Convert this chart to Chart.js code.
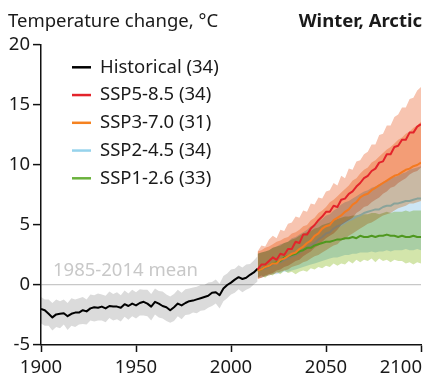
<!DOCTYPE html>
<html>
<head>
<meta charset="utf-8">
<script src="https://cdn.jsdelivr.net/npm/chart.js@4.4.1/dist/chart.umd.min.js"></script>
<style>
  html, body { margin: 0; padding: 0; background: #fff; }
  #wrap { position: relative; width: 426px; height: 376px; }
</style>
</head>
<body>
<div id="wrap"><canvas id="chart"></canvas></div>
<script>
// historical ensemble mean and 5-95% range, every second year
const histYears = [1900, 1902, 1904, 1906, 1908, 1910, 1912, 1914, 1916, 1918,
  1920, 1922, 1924, 1926, 1928, 1930, 1932, 1934, 1936, 1938,
  1940, 1942, 1944, 1946, 1948, 1950, 1952, 1954, 1956, 1958,
  1960, 1962, 1964, 1966, 1968, 1970, 1972, 1974, 1976, 1978,
  1980, 1982, 1984, 1986, 1988, 1990, 1992, 1994, 1996, 1998,
  2000, 2002, 2004, 2006, 2008, 2010, 2012, 2014];
const histMean = [-2.0, -2.1, -2.4, -2.7, -2.45, -2.4, -2.35, -2.6, -2.4, -2.3,
  -2.3, -2.1, -2.2, -1.95, -1.85, -1.9, -1.8, -1.95, -1.75, -1.8,
  -1.8, -1.9, -1.6, -1.75, -1.55, -1.7, -1.5, -1.4, -1.55, -1.8,
  -1.4, -1.55, -1.75, -1.85, -2.1, -1.85, -1.55, -1.7, -1.5, -1.35,
  -1.3, -1.2, -1.1, -1.0, -0.9, -0.65, -0.6, -0.85, -0.3, 0.0,
  0.2, 0.45, 0.65, 0.5, 0.6, 0.85, 1.05, 1.35];
const histHigh = [-1.0, -1.2, -1.2, -1.5, -1.2, -1.35, -1.2, -1.5, -1.1, -1.2,
  -1.1, -1.0, -1.2, -0.8, -0.85, -0.7, -0.8, -0.9, -0.55, -0.75,
  -0.6, -0.85, -0.45, -0.7, -0.4, -0.6, -0.35, -0.4, -0.4, -0.75,
  -0.3, -0.5, -0.55, -0.8, -0.95, -0.75, -0.4, -0.65, -0.35, -0.3,
  -0.2, -0.15, 0.0, 0.0, 0.2, 0.25, 0.45, 0.1, 0.75, 0.95,
  1.3, 1.35, 1.65, 1.45, 1.7, 1.75, 2.05, 2.4];
const histLow = [-3.2, -3.4, -3.4, -3.8, -3.5, -3.6, -3.3, -3.75, -3.4, -3.5,
  -3.3, -3.25, -3.3, -2.95, -3.05, -2.95, -2.95, -3.1, -2.75, -2.95,
  -2.85, -3.05, -2.65, -2.9, -2.6, -2.8, -2.55, -2.55, -2.6, -2.95,
  -2.45, -2.7, -2.8, -3.0, -3.15, -3.0, -2.6, -2.85, -2.5, -2.45,
  -2.3, -2.35, -2.15, -2.1, -1.9, -1.75, -1.55, -1.95, -1.35, -1.1,
  -0.8, -0.65, -0.35, -0.6, -0.4, -0.25, 0.05, 0.3];

// scenario projections, every second year
const futureYears = [2014, 2016, 2018, 2020, 2022, 2024, 2026, 2028, 2030, 2032,
  2034, 2036, 2038, 2040, 2042, 2044, 2046, 2048, 2050, 2052,
  2054, 2056, 2058, 2060, 2062, 2064, 2066, 2068, 2070, 2072,
  2074, 2076, 2078, 2080, 2082, 2084, 2086, 2088, 2090, 2092,
  2094, 2096, 2098, 2100];

const ssp585Mean = [1.3, 1.7, 1.7, 2.0, 2.3, 2.1, 2.6, 2.5, 3.0, 3.0,
  3.6, 3.5, 4.2, 4.2, 4.7, 5.0, 5.4, 5.7, 6.1, 6.1,
  6.6, 6.5, 7.1, 7.2, 7.6, 7.8, 8.2, 8.5, 8.9, 9.1,
  9.5, 9.7, 10.2, 10.3, 10.9, 10.9, 11.5, 11.6, 12.1, 12.1,
  12.7, 12.7, 13.2, 13.4];
const ssp585High = [2.8, 3.3, 3.2, 3.8, 4.1, 3.9, 4.6, 4.5, 5.1, 5.2,
  5.7, 5.6, 6.2, 6.1, 6.8, 6.7, 7.3, 7.2, 7.8, 7.9,
  8.5, 8.3, 9.1, 8.9, 9.7, 9.6, 10.3, 10.4, 10.9, 11.1,
  11.7, 11.7, 12.5, 12.6, 13.3, 13.3, 14.0, 14.2, 14.8, 14.8,
  15.5, 15.6, 16.2, 16.5];
const ssp585Low = [0.5, 0.6, 0.8, 0.9, 1.0, 1.2, 1.3, 1.5, 1.6, 1.8,
  2.0, 2.1, 2.4, 2.6, 2.8, 3.1, 3.3, 3.6, 3.9, 4.1,
  4.3, 4.6, 5.0, 5.2, 5.4, 5.6, 6.0, 6.2, 6.5, 6.6,
  6.9, 7.1, 7.3, 7.6, 7.8, 8.1, 8.2, 8.5, 8.7, 8.9,
  9.2, 9.4, 9.5, 9.8];

const ssp370Mean = [1.2, 1.3, 1.5, 1.6, 1.8, 1.8, 2.1, 2.2, 2.4, 2.6,
  2.7, 3.0, 3.2, 3.5, 3.7, 4.1, 4.3, 4.7, 4.9, 5.0,
  5.4, 5.6, 5.8, 6.1, 6.3, 6.7, 6.9, 7.3, 7.5, 7.6,
  7.9, 8.1, 8.3, 8.5, 8.7, 8.9, 9.1, 9.2, 9.4, 9.6,
  9.7, 9.9, 10.0, 10.2];
const ssp370High = [2.8, 2.9, 3.1, 3.2, 3.4, 3.6, 3.7, 3.9, 4.0, 4.3,
  4.4, 4.6, 4.9, 5.0, 5.4, 5.6, 6.0, 6.2, 6.5, 6.9,
  7.1, 7.4, 7.7, 8.0, 8.3, 8.7, 8.9, 9.3, 9.6, 9.8,
  10.2, 10.4, 10.7, 11.0, 11.3, 11.5, 11.8, 12.1, 12.3, 12.6,
  12.8, 13.1, 13.3, 13.6];
const ssp370Low = [0.5, 0.6, 0.7, 0.8, 0.9, 1.0, 1.1, 1.2, 1.3, 1.5,
  1.6, 1.7, 1.9, 2.0, 2.2, 2.4, 2.5, 2.7, 2.9, 3.1,
  3.3, 3.4, 3.7, 3.8, 4.1, 4.3, 4.5, 4.7, 4.9, 5.1,
  5.2, 5.4, 5.6, 5.8, 5.9, 6.0, 6.2, 6.4, 6.5, 6.6,
  6.8, 6.8, 6.9, 7.0];

const ssp245Mean = [1.2, 1.3, 1.4, 1.5, 1.7, 1.8, 1.9, 2.1, 2.2, 2.4,
  2.5, 2.7, 2.9, 3.1, 3.3, 3.5, 3.8, 4.0, 4.3, 4.4,
  4.7, 4.9, 5.0, 5.2, 5.4, 5.5, 5.7, 5.8, 6.0, 6.1,
  6.2, 6.3, 6.3, 6.5, 6.6, 6.6, 6.8, 6.8, 6.9, 7.0,
  7.0, 7.1, 7.2, 7.2];
const ssp245High = [2.6, 2.7, 2.8, 2.9, 3.1, 3.2, 3.4, 3.5, 3.6, 3.9,
  4.0, 4.2, 4.4, 4.6, 4.9, 5.0, 5.3, 5.5, 5.8, 5.9,
  6.2, 6.4, 6.7, 6.9, 7.0, 7.2, 7.4, 7.6, 7.8, 7.9,
  8.1, 8.2, 8.4, 8.6, 8.7, 8.9, 9.0, 9.1, 9.3, 9.4,
  9.6, 9.7, 9.8, 9.9];
const ssp245Low = [0.6, 0.6, 0.7, 0.8, 0.9, 0.9, 1.0, 1.1, 1.1, 1.2,
  1.3, 1.4, 1.5, 1.6, 1.7, 1.8, 1.9, 2.0, 2.1, 2.2,
  2.3, 2.3, 2.4, 2.5, 2.5, 2.6, 2.6, 2.7, 2.7, 2.7,
  2.8, 2.7, 2.8, 2.8, 2.9, 2.8, 2.9, 2.9, 2.9, 3.0,
  2.9, 2.9, 3.0, 2.9];

const ssp126Mean = [1.2, 1.3, 1.5, 1.6, 1.8, 1.9, 2.0, 2.3, 2.4, 2.5,
  2.6, 2.8, 2.9, 3.1, 3.1, 3.3, 3.4, 3.5, 3.6, 3.6,
  3.7, 3.8, 3.8, 3.9, 3.9, 4.0, 3.9, 4.1, 4.0, 4.0,
  4.1, 4.0, 4.1, 4.1, 4.2, 4.1, 4.1, 4.0, 4.1, 4.0,
  4.0, 4.1, 4.0, 4.0];
const ssp126High = [2.6, 2.7, 2.8, 2.9, 3.1, 3.2, 3.3, 3.5, 3.6, 3.8,
  3.9, 4.1, 4.3, 4.4, 4.5, 4.7, 4.8, 5.0, 5.1, 5.2,
  5.4, 5.5, 5.6, 5.7, 5.7, 5.8, 5.8, 5.9, 5.9, 5.9,
  6.0, 6.0, 5.9, 6.0, 6.1, 6.0, 6.1, 6.1, 6.1, 6.2,
  6.1, 6.2, 6.2, 6.2];
const ssp126Low = [0.6, 0.8, 0.6, 0.9, 0.8, 1.1, 0.9, 1.2, 1.0, 1.1,
  0.9, 1.1, 1.2, 1.1, 1.4, 1.3, 1.5, 1.4, 1.6, 1.5,
  1.8, 1.6, 1.8, 1.7, 2.0, 1.8, 2.1, 1.9, 2.1, 2.0,
  2.2, 1.9, 2.2, 2.0, 2.1, 1.9, 2.1, 2.0, 2.0, 1.8,
  1.9, 1.7, 1.9, 1.8];

const legendNames = ["Historical (34)", "SSP5-8.5 (34)", "SSP3-7.0 (31)", "SSP2-4.5 (34)", "SSP1-2.6 (33)"];
const legendColors = ["#000000", "#e3242b", "#f58220", "#96d3ec", "#6ab23c"];

const xTicks = [1900, 1950, 2000, 2050, 2100];
const yTicks = [-5, 0, 5, 10, 15, 20];

const FONT = '"Noto Sans", "Open Sans", sans-serif';
const pts = (xs, ys) => xs.map((x, i) => ({ x: x, y: ys[i] }));

// datasets are pushed bottom -> top; bands are multiplied onto what is below
const datasets = [];
function addBand(xs, lo, hi, color) {
    datasets.push({ data: pts(xs, lo), borderWidth: 0, borderColor: "transparent", pointRadius: 0, fill: false });
    datasets.push({ data: pts(xs, hi), borderWidth: 0, borderColor: "transparent", pointRadius: 0, fill: "-1", backgroundColor: color });
}
function addLine(xs, ys, color, width) {
    datasets.push({ data: pts(xs, ys), borderColor: color, borderWidth: width, pointRadius: 0, fill: false, borderJoinStyle: "round", isLine: true });
}

addBand(histYears, histLow, histHigh, "#dbdbdb");
addLine(histYears, histMean, "#000000", 2);
addBand(futureYears, ssp245Low, ssp245High, "#cde6f5");
addBand(futureYears, ssp126Low, ssp126High, "#d3e5ab");
addLine(futureYears, ssp245Mean, "#8ccbe6", 2);
addBand(futureYears, ssp370Low, ssp370High, "#fbcdab");
addBand(futureYears, ssp585Low, ssp585High, "#f7c4b0");
addLine(futureYears, ssp126Mean, "#4f981f", 2);
addLine(futureYears, ssp370Mean, "#f47a1f", 2);
addLine(futureYears, ssp585Mean, "#e3242b", 2);
datasets.forEach((d, i) => { d.order = 100 - i; });

const decor = {
    id: "decor",
    beforeDatasetsDraw(chart) {
        chart.ctx.globalCompositeOperation = "multiply";
    },
    beforeDatasetDraw(chart, args) {
        if (chart.data.datasets[args.index].isLine) {
            chart.ctx.globalCompositeOperation = "source-over";
        }
    },
    afterDatasetDraw(chart) {
        chart.ctx.globalCompositeOperation = "multiply";
    },
    afterDatasetsDraw(chart) {
        chart.ctx.globalCompositeOperation = "source-over";
    },
    afterDraw(chart) {
        const ctx = chart.ctx;
        const area = chart.chartArea;
        const xs = chart.scales.x;
        const ys = chart.scales.y;
        ctx.save();
        ctx.globalCompositeOperation = "source-over";

        ctx.fillStyle = "#1a1a1a";
        ctx.textBaseline = "alphabetic";
        ctx.font = "18.5px " + FONT;
        ctx.textAlign = "left";
        ctx.fillText("Temperature change, °C", 8, 27);
        ctx.font = "bold 18.5px " + FONT;
        ctx.textAlign = "right";
        ctx.fillText("Winter, Arctic", 422, 27);

        // x tick labels, last one pulled inside the canvas
        ctx.font = "18.5px " + FONT;
        ctx.textAlign = "left";
        xs.ticks.forEach((t) => {
            const label = String(t.value);
            const w = ctx.measureText(label).width;
            let left = xs.getPixelForValue(t.value) - w / 2;
            left = Math.min(left, area.right + 1 - w);
            ctx.fillText(label, left, 373);
        });

        ctx.fillStyle = "#c8c8c8";
        ctx.fillText("1985-2014 mean", xs.getPixelForValue(1906.3), ys.getPixelForValue(0) - 9);

        // legend
        ctx.textBaseline = "middle";
        legendNames.forEach((name, i) => {
            const y = area.top + 22.3 + i * 27.75;
            ctx.strokeStyle = legendColors[i];
            ctx.lineWidth = 2.5;
            ctx.beginPath();
            ctx.moveTo(area.left + 31, y);
            ctx.lineTo(area.left + 50, y);
            ctx.stroke();
            ctx.fillStyle = "#1a1a1a";
            ctx.fillText(name, area.left + 59, y);
        });
        ctx.restore();
    }
};

new Chart(document.getElementById("chart"), {
    type: "line",
    data: { datasets: datasets },
    options: {
        responsive: true,
        maintainAspectRatio: false,
        animation: false,
        events: [],
        layout: { padding: { top: 45, right: 5, left: 0, bottom: 0 } },
        plugins: {
            legend: { display: false },
            tooltip: { enabled: false },
            filler: { drawTime: "beforeDatasetDraw" }
        },
        scales: {
            x: {
                type: "linear",
                min: xTicks[0],
                max: xTicks[xTicks.length - 1],
                afterFit: (scale) => { scale.height = 31; },
                afterBuildTicks: (scale) => { scale.ticks = xTicks.map((v) => ({ value: v })); },
                ticks: { display: false },
                grid: { drawOnChartArea: false, drawTicks: true, tickLength: 7, tickColor: "#111", tickWidth: 1.5 },
                border: { color: "#111", width: 1.5 }
            },
            y: {
                min: yTicks[0],
                max: yTicks[yTicks.length - 1],
                afterFit: (scale) => { scale.width = 41; },
                afterBuildTicks: (scale) => { scale.ticks = yTicks.map((v) => ({ value: v })); },
                ticks: {
                    color: "#1a1a1a",
                    padding: 3,
                    font: { family: FONT, size: 18.5 },
                    callback: (v) => String(v)
                },
                grid: {
                    color: (c) => (c.tick && c.tick.value === 0 ? "#c8c8c8" : "transparent"),
                    lineWidth: 1.2,
                    tickLength: 8,
                    tickColor: "#111",
                    tickWidth: 1.5
                },
                border: { color: "#111", width: 1.5 }
            }
        }
    },
    plugins: [decor]
});
</script>
</body>
</html>
